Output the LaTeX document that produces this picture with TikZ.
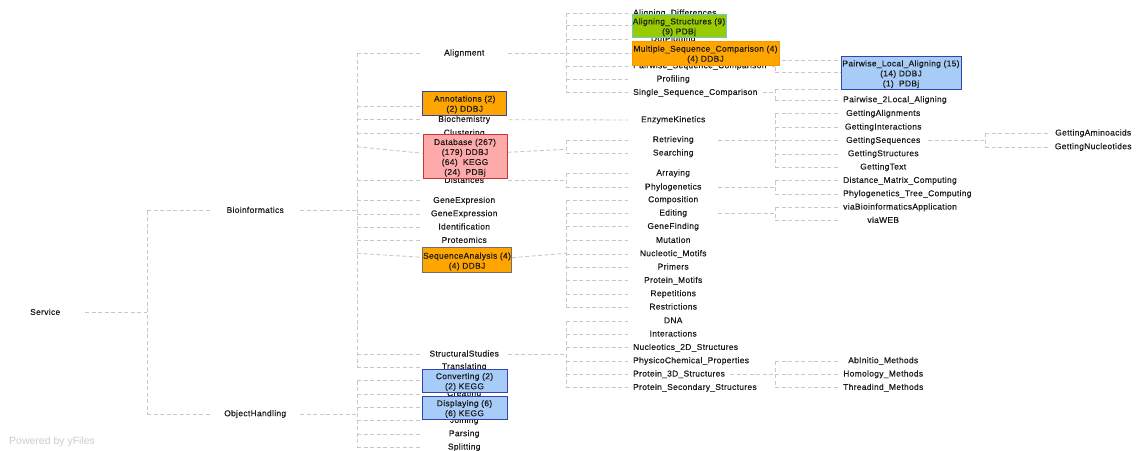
\documentclass[tikz,border=0pt]{standalone}
\usepackage{fontspec}
\newfontfamily\treefont[LetterSpace=4,FakeBold=0.5]{Liberation Sans}
\newfontfamily\markfont{Liberation Sans}

\definecolor{edgegray}{HTML}{C8C8C8}
\definecolor{textdark}{HTML}{1A1A1A}
\definecolor{orangefill}{HTML}{FFA500}
\definecolor{orangeline}{HTML}{F29B00}
\definecolor{greenfill}{HTML}{99CC00}
\definecolor{greenline}{HTML}{66CCCC}
\definecolor{pinkfill}{HTML}{FFAAAA}
\definecolor{redline}{HTML}{CC3333}
\definecolor{bluefill}{HTML}{A8CCF8}
\definecolor{blueline}{HTML}{3344AA}
\definecolor{greyline}{HTML}{707070}
\definecolor{markgray}{HTML}{CCCCCC}

\pgfdeclarelayer{edgelayer}
\pgfdeclarelayer{boxlayer}
\pgfsetlayers{edgelayer,main,boxlayer}

\tikzset{
  link/.style={draw=edgegray, line width=0.9pt, dash pattern=on 4pt off 2.5pt},
  lbl/.style={font=\treefont\fontsize{8.4}{10}\selectfont, text=textdark,
    anchor=west, inner ysep=0pt, inner xsep=5pt, minimum width=90pt,
    text height=6pt, text depth=1.6pt},
  lbltwo/.style={lbl, minimum width=88pt},
  % box with its text set slightly below the middle
  infobox/.style 2 args={inner sep=0pt, line width=0.9pt, #1,
    label={[font=\treefont\fontsize{8.4}{10}\selectfont, text=textdark,
      align=center, inner sep=0pt, yshift=-1.5pt]center:{#2}}},
  orangebox/.style={fill=orangefill, draw=blueline},
  bluebox/.style={fill=bluefill, draw=blueline},
}

\begin{document}
\begin{tikzpicture}[x=1pt, y=-1pt]
\useasboundingbox (0,0) rectangle (1138,450);

% branch columns
\coordinate (b0) at (147,0);
\coordinate (b1) at (357,0);
\coordinate (b2) at (566,0);
\coordinate (b3) at (775,0);
\coordinate (b4) at (985,0);

% ---------- plain labels ----------
\node[lbl, minimum width=80pt] (service) at (5,312.7) {Service};
\node[lbl] (bioinf) at (210,210.7) {Bioinformatics};
\node[lbl] (objh) at (210,414) {ObjectHandling};

% second column
\node[lbltwo] (alignment) at (420,53.3) {Alignment};
\node[lbltwo] (biochem) at (420,119.7) {Biochemistry};
\node[lbltwo] (clustering) at (420,133.3) {Clustering};
\node[lbltwo] (distances) at (420,180.7) {Distances};
\node[lbltwo] (geneExpresion) at (420,200.7) {GeneExpresion};
\node[lbltwo] (geneExpression) at (420,214) {GeneExpression};
\node[lbltwo] (identification) at (420,227.3) {Identification};
\node[lbltwo] (proteomics) at (420,240.7) {Proteomics};
\node[lbltwo] (structural) at (420,354.3) {StructuralStudies};
\node[lbltwo] (translating) at (420,367) {Translating};
\node[lbltwo] (creating) at (420,394) {Creating};
\node[lbltwo] (joining) at (420,420.7) {Joining};
\node[lbltwo] (parsing) at (420,434) {Parsing};
\node[lbltwo] (splitting) at (420,447.3) {Splitting};

% third column
\node[lbl] (alDiff) at (628,13.3) {Aligning\_Differences};
\node[lbl] (dotPlot) at (628,39.3) {DotPlotting};
\node[lbl] (pairSeq) at (628,66) {Pairwise\_Sequence\_Comparison};
\node[lbl] (profiling) at (628,79.3) {Profiling};
\node[lbl] (singleSeq) at (628,92.7) {Single\_Sequence\_Comparison};
\node[lbl] (enzyme) at (628,120) {EnzymeKinetics};
\node[lbl] (retrieving) at (628,140) {Retrieving};
\node[lbl] (searching) at (628,153.3) {Searching};
\node[lbl] (arraying) at (628,173.3) {Arraying};
\node[lbl] (phylo) at (628,187.3) {Phylogenetics};
\node[lbl] (composition) at (628,200) {Composition};
\node[lbl] (editing) at (628,213.3) {Editing};
\node[lbl] (geneFinding) at (628,226.7) {GeneFinding};
\node[lbl] (mutation) at (628,240.7) {Mutation};
\node[lbl] (nucMotifs) at (628,254) {Nucleotic\_Motifs};
\node[lbl] (primers) at (628,267.3) {Primers};
\node[lbl] (protMotifs) at (628,280.7) {Protein\_Motifs};
\node[lbl] (repetitions) at (628,294) {Repetitions};
\node[lbl] (restrictions) at (628,307.3) {Restrictions};
\node[lbl] (dna) at (628,321) {DNA};
\node[lbl] (interactions) at (628,334.3) {Interactions};
\node[lbl] (nuc2D) at (628,347.7) {Nucleotics\_2D\_Structures};
\node[lbl] (physico) at (628,361) {PhysicoChemical\_Properties};
\node[lbl] (prot3D) at (628,374.3) {Protein\_3D\_Structures};
\node[lbl] (protSec) at (628,387.7) {Protein\_Secondary\_Structures};

% fourth column
\coordinate (pwA) at (840,60);
\coordinate (pwC) at (840,89.3);
\node[lbl] (pw2Local) at (838,100) {Pairwise\_2Local\_Aligning};
\node[lbl] (gAlign) at (838,113.7) {GettingAlignments};
\node[lbl] (gInter) at (838,127.3) {GettingInteractions};
\node[lbl] (gSeq) at (838,140.7) {GettingSequences};
\node[lbl] (gStruct) at (838,154) {GettingStructures};
\node[lbl] (gText) at (838,167.3) {GettingText};
\node[lbl] (distMat) at (838,180.7) {Distance\_Matrix\_Computing};
\node[lbl] (phyloTree) at (838,194) {Phylogenetics\_Tree\_Computing};
\node[lbl] (viaBio) at (838,207.3) {viaBioinformaticsApplication};
\node[lbl] (viaWeb) at (838,220.7) {viaWEB};
\node[lbl] (abInitio) at (838,361) {AbInitio\_Methods};
\node[lbl] (homology) at (838,374.3) {Homology\_Methods};
\node[lbl] (threadind) at (838,387.7) {Threadind\_Methods};

% fifth column
\node[lbl] (gAmino) at (1048,133.3) {GettingAminoacids};
\node[lbl] (gNucl) at (1048,147) {GettingNucleotides};

% ---------- annotated boxes ----------
\begin{pgfonlayer}{boxlayer}
\node[infobox={orangebox}{Annotations (2)\\(2) DDBJ},
  minimum width=84pt, minimum height=24pt] (annot) at (464.7,103) {};
\node[infobox={fill=pinkfill, draw=redline}{Database (267)\\(179) DDBJ\\(64)~ KEGG\\(24)~ PDBj},
  minimum width=84pt, minimum height=44.7pt] (database) at (465,156.3) {};
\node[infobox={orangebox, draw=greyline}{SequenceAnalysis (4)\\(4) DDBJ},
  minimum width=89.4pt, minimum height=24.6pt] (seqan) at (467,260) {};
\node[infobox={bluebox}{Converting (2)\\(2) KEGG},
  minimum width=85pt, minimum height=23pt] (converting) at (464.5,380.5) {};
\node[infobox={bluebox}{Displaying (6)\\(6) KEGG},
  minimum width=85pt, minimum height=23pt] (displaying) at (464.5,407.5) {};
\node[infobox={fill=greenfill, draw=greenline}{Aligning\_Structures (9)\\(9) PDBj},
  minimum width=94pt, minimum height=23.3pt] (alStruct) at (679,25.7) {};
\node[infobox={fill=orangefill, draw=orangeline}{Multiple\_Sequence\_Comparison (4)\\(4) DDBJ},
  minimum width=147pt, minimum height=24pt] (multSeq) at (705.5,53) {};
\node[infobox={bluebox}{Pairwise\_Local\_Aligning (15)\\(14) DDBJ\\(1)~ PDBj},
  minimum width=120pt, minimum height=33.3pt] (pwLocal) at (901,72.7) {};
\end{pgfonlayer}

% ---------- connectors ----------
\begin{pgfonlayer}{edgelayer}
% Service
\draw[link] (service.east) -- (service.east -| b0);
\draw[link] (bioinf.west -| b0) -- (objh.west -| b0);
\foreach \c in {bioinf,objh} \draw[link] (\c.west -| b0) -- (\c.west);

% Bioinformatics
\draw[link] (bioinf.east) -- (bioinf.east -| b1);
\draw[link] (alignment.west -| b1) -- (translating.west -| b1);
\foreach \c in {alignment,biochem,clustering,distances,geneExpresion,geneExpression,
  identification,proteomics,structural,translating}
  \draw[link] (\c.west -| b1) -- (\c.west);
\coordinate (annotIn) at ([yshift=-3.7pt]annot.west);
\draw[link] (annotIn -| b1) -- (annotIn);
\coordinate (dbJoin) at (357,146.7);
\draw[link] (dbJoin) -- ([yshift=3pt]database.west);
\coordinate (saJoin) at (357,253.3);
\draw[link] (saJoin) -- ([yshift=2.7pt]seqan.west);

% ObjectHandling
\draw[link] (objh.east) -- (objh.east -| b1);
\draw[link] (converting.west -| b1) -- (splitting.west -| b1);
\foreach \c in {converting,creating,displaying,joining,parsing,splitting}
  \draw[link] (\c.west -| b1) -- (\c.west);

% Alignment
\draw[link] (alignment.east) -- (alignment.east -| b2);
\draw[link] (alDiff.west -| b2) -- (singleSeq.west -| b2);
\foreach \c in {alDiff,alStruct,dotPlot,multSeq,pairSeq,profiling,singleSeq}
  \draw[link] (\c.west -| b2) -- (\c.west);

% Biochemistry
\draw[link] (biochem.east) -- (enzyme.west);

% Database
\coordinate (dbOut) at (566,149.3);
\draw[link] ([yshift=4pt]database.east) -- (dbOut);
\draw[link] (retrieving.west -| b2) -- (searching.west -| b2);
\foreach \c in {retrieving,searching} \draw[link] (\c.west -| b2) -- (\c.west);

% Distances
\draw[link] (distances.east) -- (distances.east -| b2);
\draw[link] (arraying.west -| b2) -- (phylo.west -| b2);
\foreach \c in {arraying,phylo} \draw[link] (\c.west -| b2) -- (\c.west);

% SequenceAnalysis
\coordinate (saOut) at (566,253.3);
\draw[link] ([yshift=2.3pt]seqan.east) -- (saOut);
\draw[link] (composition.west -| b2) -- (restrictions.west -| b2);
\foreach \c in {composition,editing,geneFinding,mutation,nucMotifs,primers,protMotifs,
  repetitions,restrictions}
  \draw[link] (\c.west -| b2) -- (\c.west);

% StructuralStudies
\draw[link] (structural.east) -- (structural.east -| b2);
\draw[link] (dna.west -| b2) -- (protSec.west -| b2);
\foreach \c in {dna,interactions,nuc2D,physico,prot3D,protSec}
  \draw[link] (\c.west -| b2) -- (\c.west);

% Pairwise_Sequence_Comparison
\draw[link] (pairSeq.east) -- (pairSeq.east -| b3);
\draw[link] (pwA -| b3) -- (pwLocal.west -| b3);
\draw[link] (pwA -| b3) -- (pwA);
\draw[link] (pwLocal.west -| b3) -- (pwLocal.west);

% Single_Sequence_Comparison
\draw[link] (singleSeq.east) -- (singleSeq.east -| b3);
\draw[link] (pwC -| b3) -- (pw2Local.west -| b3);
\draw[link] (pwC -| b3) -- (pwC);
\draw[link] (pw2Local.west -| b3) -- (pw2Local.west);

% Retrieving
\draw[link] (retrieving.east) -- (retrieving.east -| b3);
\draw[link] (gAlign.west -| b3) -- (gText.west -| b3);
\foreach \c in {gAlign,gInter,gSeq,gStruct,gText} \draw[link] (\c.west -| b3) -- (\c.west);

% Phylogenetics
\draw[link] (phylo.east) -- (phylo.east -| b3);
\draw[link] (distMat.west -| b3) -- (phyloTree.west -| b3);
\foreach \c in {distMat,phyloTree} \draw[link] (\c.west -| b3) -- (\c.west);

% Editing
\draw[link] (editing.east) -- (editing.east -| b3);
\draw[link] (viaBio.west -| b3) -- (viaWeb.west -| b3);
\foreach \c in {viaBio,viaWeb} \draw[link] (\c.west -| b3) -- (\c.west);

% Protein_3D_Structures
\draw[link] (prot3D.east) -- (prot3D.east -| b3);
\draw[link] (abInitio.west -| b3) -- (threadind.west -| b3);
\foreach \c in {abInitio,homology,threadind} \draw[link] (\c.west -| b3) -- (\c.west);

% GettingSequences
\draw[link] (gSeq.east) -- (gSeq.east -| b4);
\draw[link] (gAmino.west -| b4) -- (gNucl.west -| b4);
\foreach \c in {gAmino,gNucl} \draw[link] (\c.west -| b4) -- (\c.west);
\end{pgfonlayer}

% watermark
\node[anchor=west, inner sep=0pt, text=markgray, font=\markfont\fontsize{10.5}{12}\selectfont]
  (powered) at (9,441.7) {Powered by yFiles};
\end{tikzpicture}
\end{document}
